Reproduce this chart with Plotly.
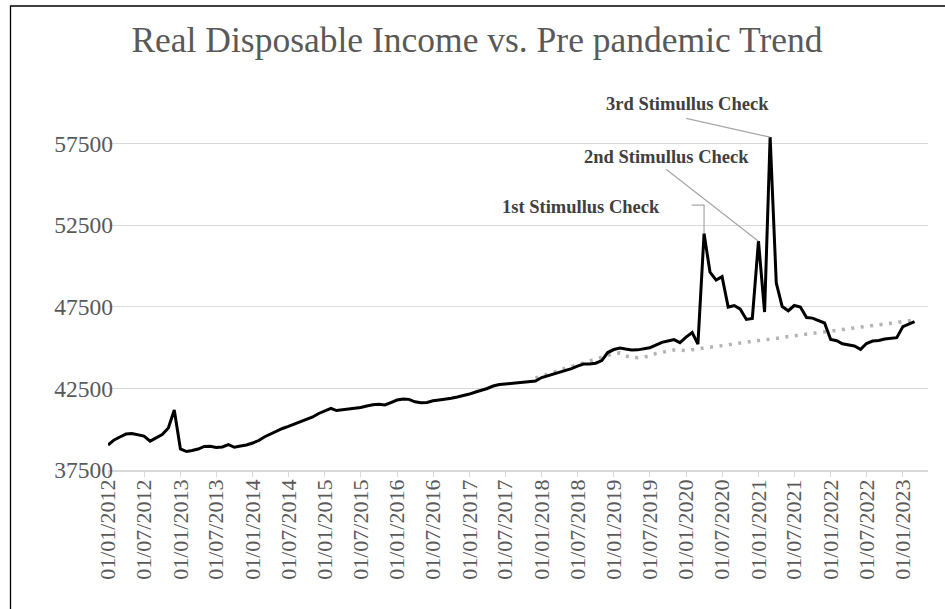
import pandas as pd
import plotly.graph_objects as go

# Real disposable income per capita, monthly, Jan 2012 - Mar 2023
income = [
    39030, 39340, 39520, 39700, 39735, 39670, 39580, 39270, 39460, 39670, 40070, 41170,
    38785, 38630, 38690, 38785, 38940, 38950, 38880, 38910, 39060, 38890, 38970, 39030,
    39150, 39305, 39520, 39700, 39855, 40040, 40170, 40315, 40440, 40600, 40745, 40960,
    41140, 41280, 41140, 41185, 41245, 41265, 41325, 41420, 41500, 41520, 41480, 41630,
    41785, 41845, 41825, 41675, 41620, 41630, 41735, 41785, 41825, 41890, 41970, 42050,
    42150, 42275, 42365, 42490, 42640, 42735, 42765, 42805, 42825, 42855, 42900, 42945,
    43160, 43265, 43375, 43465, 43590, 43710, 43865, 43990, 43990, 44040, 44200, 44690,
    44875, 44970, 44905, 44845, 44855, 44905, 44985, 45150, 45315, 45395, 45485, 45300,
    45640, 45915, 45210, 51975, 49620, 49130, 49340, 47475, 47570, 47350, 46720, 46780,
    51510, 47170, 57880, 48950, 47510, 47250, 47570, 47475, 46835, 46800, 46650, 46500,
    45490, 45415, 45230, 45150, 45090, 44890, 45245, 45395, 45425, 45520, 45580, 45600,
    46280, 46435, 46590,
]

# Pre-pandemic trend, monthly, Dec 2017 - Mar 2023
trend = [
    43130,
    43265, 43390, 43480, 43570, 43735, 43835, 43945, 44090, 44200, 44320, 44445, 44555,
    44630, 44670, 44490, 44400, 44375, 44410, 44490, 44630, 44690, 44760, 44850, 44845,
    44810, 44865, 44930, 44985, 45020, 45060, 45120, 45170, 45210, 45270, 45330, 45380,
    45425, 45460, 45500, 45550, 45620, 45670, 45710, 45750, 45805, 45865, 45915, 45965,
    46000, 46055, 46115, 46160, 46195, 46250, 46290, 46330, 46380, 46420, 46460, 46530,
    46590, 46640, 46680,
]

income_dates = pd.date_range("2012-01-01", periods=len(income), freq="MS")
trend_dates = pd.date_range("2017-12-01", periods=len(trend), freq="MS")

x_tick_dates = pd.date_range("2012-01-01", "2023-01-01", freq="6MS")
x_tick_text = [d.strftime("%d/%m/%Y") for d in x_tick_dates]
y_ticks = [37500, 42500, 47500, 52500, 57500]

# Stimulus labels: (month, text, text offset px, leader path px)
stimulus = [
    ("2020-04-01", "1st Stimullus Check", (-123, 27), "M0,0 L0,28.5 L-12.3,28.5"),
    ("2021-01-01", "2nd Stimullus Check", (-92.4, 84), "M0,0 L-92.4,72"),
    ("2021-03-01", "3rd Stimullus Check", (-83, 33), "M0,0 L-84,18.7"),
]

SERIF = "Liberation Serif, Times New Roman, serif"
GREY_TXT = "#595959"

fig = go.Figure()
fig.add_trace(go.Scatter(
    x=trend_dates, y=trend, mode="lines",
    line=dict(color="#b3b3b3", width=3.5, dash="3px,6.5px"),
    hoverinfo="skip", showlegend=False,
))
fig.add_trace(go.Scatter(
    x=income_dates, y=income, mode="lines",
    line=dict(color="#000000", width=3),
    showlegend=False,
))

value_at = dict(zip(income_dates.strftime("%Y-%m-%d"), income))
annotations = []
shapes = []
for month, text, (dx, dy), path in stimulus:
    v = value_at[month]
    annotations.append(dict(
        x=month, y=v, xref="x", yref="y", text=f"<b>{text}</b>", showarrow=False,
        xshift=dx, yshift=dy,
        font=dict(family=SERIF, size=18.5, color="#404040"),
    ))
    shapes.append(dict(
        type="path", xref="x", yref="y", xsizemode="pixel", ysizemode="pixel",
        xanchor=month, yanchor=v, path=path,
        line=dict(color="#a6a6a6", width=1.2),
    ))

# Chart frame (left and top edges)
L, R, T, B = 108, 17, 78, 139
pw, ph = 945 - L - R, 609 - T - B
fx = lambda px: (px - L) / pw
fy = lambda py: (609 - B - py) / ph
shapes.append(dict(
    type="path", xref="paper", yref="paper",
    path=f"M{fx(10.5)},{fy(615)} L{fx(10.5)},{fy(6)} L{fx(950)},{fy(6)}",
    line=dict(color="#000000", width=1.3),
))

fig.update_layout(
    width=945, height=609,
    margin=dict(l=L, r=R, t=T, b=B),
    paper_bgcolor="white", plot_bgcolor="white",
    font=dict(family=SERIF, color=GREY_TXT),
    title=dict(
        text="Real Disposable Income vs. Pre pandemic Trend",
        font=dict(family=SERIF, size=35.5, color=GREY_TXT),
        x=477 / 945, xref="container", xanchor="center",
        y=1 - 40 / 609, yref="container", yanchor="middle",
    ),
    xaxis=dict(
        type="date", range=["2012-01-01", "2023-05-08"],
        tickvals=x_tick_dates, ticktext=x_tick_text, tickangle=-90,
        ticks="outside", ticklen=5, tickcolor="#d9d9d9",
        showline=True, linecolor="#d9d9d9", linewidth=1.5,
        showgrid=False, zeroline=False,
        tickfont=dict(family=SERIF, size=22, color=GREY_TXT),
        ticklabelstandoff=-6,
    ),
    yaxis=dict(
        range=[37500, 61500], tickvals=y_ticks, ticktext=[str(v) for v in y_ticks],
        showgrid=True, gridcolor="#d9d9d9", gridwidth=1,
        zeroline=False, showline=False, ticks="",
        tickfont=dict(family=SERIF, size=23.5, color=GREY_TXT),
        ticklabelstandoff=-6,
    ),
    annotations=annotations,
    shapes=shapes,
    hovermode=False,
)

fig.write_html("out.html")
